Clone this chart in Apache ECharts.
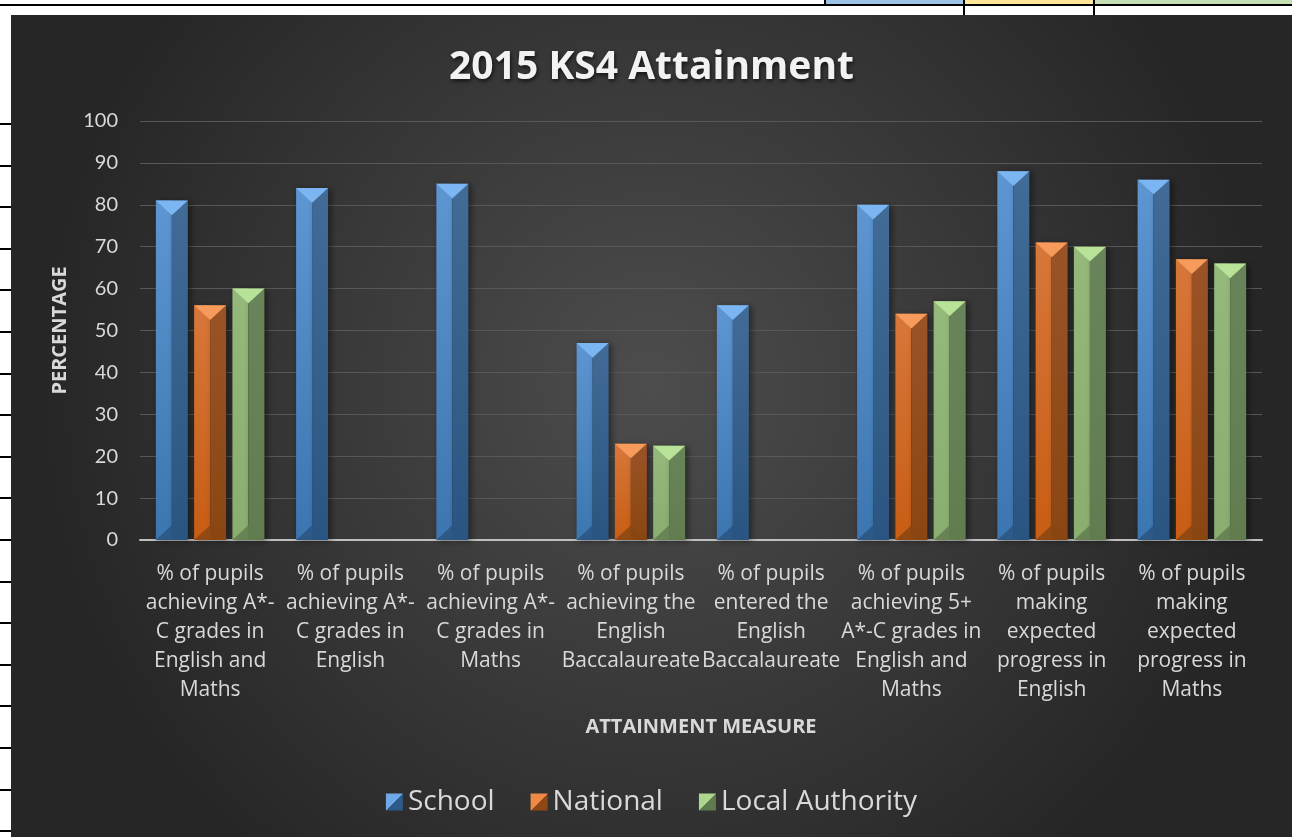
<!DOCTYPE html>
<html>
<head>
<meta charset="utf-8">
<title>2015 KS4 Attainment</title>
<script src="https://cdn.jsdelivr.net/npm/echarts@6/dist/echarts.min.js"></script>
<style>
  html, body { margin: 0; padding: 0; background: #fff; }
  body { width: 1292px; height: 837px; position: relative; overflow: hidden; }
  /* spreadsheet bits around the chart */
  .rowline { position: absolute; left: 0; width: 11px; height: 2px; background: #000; }
  .topline { position: absolute; left: 0; top: 4px; width: 1292px; height: 2px; background: #000; }
  .cell { position: absolute; top: 0; height: 4px; }
  .vline { position: absolute; top: 0; width: 2px; height: 15px; background: #000; }
  #main { position: absolute; left: 11px; top: 15px; width: 1281px; height: 822px; }
</style>
</head>
<body>
<div class="topline"></div>
<div class="cell" style="left:825px;width:138px;background:#9dc3e6"></div>
<div class="cell" style="left:965px;width:128px;background:#ffe699"></div>
<div class="cell" style="left:1095px;width:197px;background:#c5e0b4"></div>
<div class="vline" style="left:824px;height:5px"></div>
<div class="vline" style="left:963px"></div>
<div class="vline" style="left:1093px"></div>
<div id="rows"></div>
<div id="main"></div>
<script>
    // 分类（x 轴标签）
    var categories = [
        "% of pupils\nachieving A*-\nC grades in\nEnglish and\nMaths",
        "% of pupils\nachieving A*-\nC grades in\nEnglish",
        "% of pupils\nachieving A*-\nC grades in\nMaths",
        "% of pupils\nachieving the\nEnglish\nBaccalaureate",
        "% of pupils\nentered the\nEnglish\nBaccalaureate",
        "% of pupils\nachieving 5+\nA*-C grades in\nEnglish and\nMaths",
        "% of pupils\nmaking\nexpected\nprogress in\nEnglish",
        "% of pupils\nmaking\nexpected\nprogress in\nMaths"
    ];
    var seriesNames = ["School", "National", "Local Authority"];
    var school = [81, 84, 85, 47, 56, 80, 88, 86];
    var national = [56, null, null, 23, null, 54, 71, 67];
    var localAuthority = [60, null, null, 22.5, null, 57, 70, 66];
    var yTicks = [0, 10, 20, 30, 40, 50, 60, 70, 80, 90, 100];

    // 左侧表格行线
    var rowsDiv = document.getElementById('rows');
    for (var r = 0; r < 18; r++) {
        var y = 123 + r * 41.6;
        if (y < 837) {
            var d = document.createElement('div');
            d.className = 'rowline';
            d.style.top = Math.round(y) + 'px';
            rowsDiv.appendChild(d);
        }
    }

    // 每个系列的颜色：左面, 右面, 顶部三角
    var palette = [
        { left: ['#5d96d2', '#3c76b0'], right: ['#426c97', '#2a5582'], top: '#7bb6f2', icon: ['#6ea8e6', '#2e5a88'] },
        { left: ['#d7773a', '#c85d14'], right: ['#9a5327', '#8a4612'], top: '#f69b5c', icon: ['#ef8a46', '#8e4815'] },
        { left: ['#95b87b', '#8aae6f'], right: ['#69845a', '#617d50'], top: '#b7e297', icon: ['#acd68d', '#5f7a4e'] }
    ];

    function toData(arr) {
        var out = [];
        for (var i = 0; i < arr.length; i++) {
            if (arr[i] != null) out.push([i, arr[i]]);
        }
        return out;
    }

    function vgrad(c) {
        return new echarts.graphic.LinearGradient(0, 0, 0, 1, [
            { offset: 0, color: c[0] }, { offset: 1, color: c[1] }
        ]);
    }

    function makeRender(sIdx) {
        var p = palette[sIdx];
        return function (params, api) {
            var i = api.value(0), v = api.value(1);
            var topPt = api.coord([i, v]);
            var basePt = api.coord([i, 0]);
            var band = api.size([1, 0])[0];
            var bw = band * 0.228;
            var gap = band * 0.045;
            var cx = topPt[0] + (sIdx - 1) * (bw + gap);
            var x0 = cx - bw / 2, x1 = cx + bw / 2;
            var t = topPt[1], b = basePt[1];
            var h = bw * 0.46;
            return {
                type: 'group',
                children: [
                    { type: 'rect', shape: { x: x0, y: t, width: bw / 2, height: b - t },
                      style: { fill: vgrad(p.left), shadowColor: 'rgba(0,0,0,0.45)', shadowBlur: 6, shadowOffsetX: 2, shadowOffsetY: 1 } },
                    { type: 'rect', shape: { x: cx, y: t, width: bw / 2, height: b - t },
                      style: { fill: vgrad(p.right), shadowColor: 'rgba(0,0,0,0.45)', shadowBlur: 6, shadowOffsetX: 3, shadowOffsetY: 1 } },
                    { type: 'polygon', shape: { points: [[x0, b], [x1, b], [cx, b - h]] },
                      style: { fill: p.right[1], opacity: 0.85 } },
                    { type: 'polygon', shape: { points: [[x0, t], [x1, t], [cx, t + h]] },
                      style: { fill: p.top } }
                ]
            };
        };
    }

    var values = [school, national, localAuthority];
    var series = [];
    for (var s = 0; s < 3; s++) {
        series.push({
            name: seriesNames[s],
            type: 'custom',
            renderItem: makeRender(s),
            encode: { x: 0, y: 1 },
            itemStyle: {
                color: new echarts.graphic.LinearGradient(0, 0, 1, 1, [
                    { offset: 0, color: palette[s].icon[0] }, { offset: 0.5, color: palette[s].icon[0] },
                    { offset: 0.5, color: palette[s].icon[1] }, { offset: 1, color: palette[s].icon[1] }
                ])
            },
            data: toData(values[s])
        });
    }

    var fontFam = '"Open Sans", Lato, sans-serif';
    var option = {
        backgroundColor: new echarts.graphic.RadialGradient(0.5, 0.45, 0.75, [
            { offset: 0, color: '#4d4d4d' }, { offset: 1, color: '#262626' }
        ]),
        title: {
            text: '2015 KS4 Attainment',
            left: 'center',
            top: 28,
            textStyle: {
                color: '#f2f2f2', fontSize: 39, fontWeight: 'bold', fontFamily: fontFam,
                textShadowColor: 'rgba(0,0,0,0.7)', textShadowBlur: 4, textShadowOffsetX: 1, textShadowOffsetY: 2
            }
        },
        legend: {
            data: seriesNames,
            top: 768,
            left: 'center',
            icon: 'rect',
            itemWidth: 17,
            itemHeight: 17,
            itemGap: 36,
            textStyle: { color: '#d9d9d9', fontSize: 28, fontFamily: fontFam, padding: [0, 0, 0, 0] }
        },
        grid: { left: 129, right: 30, top: 106, bottom: 297 },
        xAxis: {
            type: 'category',
            data: categories,
            name: 'ATTAINMENT MEASURE',
            nameLocation: 'middle',
            nameGap: 177,
            nameTextStyle: { color: '#d9d9d9', fontSize: 20, fontWeight: 'bold', fontFamily: fontFam },
            axisLine: { lineStyle: { color: '#bfbfbf', width: 2 } },
            axisTick: { show: false },
            axisLabel: {
                interval: 0, color: '#d9d9d9', fontSize: 21, lineHeight: 29,
                fontFamily: fontFam, margin: 20, align: 'center'
            },
            splitLine: { show: false }
        },
        yAxis: {
            type: 'value',
            min: yTicks[0],
            max: yTicks[yTicks.length - 1],
            interval: 10,
            name: 'PERCENTAGE',
            nameLocation: 'middle',
            nameGap: 70,
            nameTextStyle: { color: '#d9d9d9', fontSize: 20, fontWeight: 'bold', fontFamily: fontFam },
            axisLine: { show: false },
            axisTick: { show: false },
            axisLabel: { color: '#d9d9d9', fontSize: 20, fontFamily: 'Lato, sans-serif', margin: 22 },
            splitLine: { lineStyle: { color: '#585858', width: 1 } }
        },
        series: series
    };

    echarts.init(document.getElementById('main')).setOption(option);
</script>
</body>
</html>
